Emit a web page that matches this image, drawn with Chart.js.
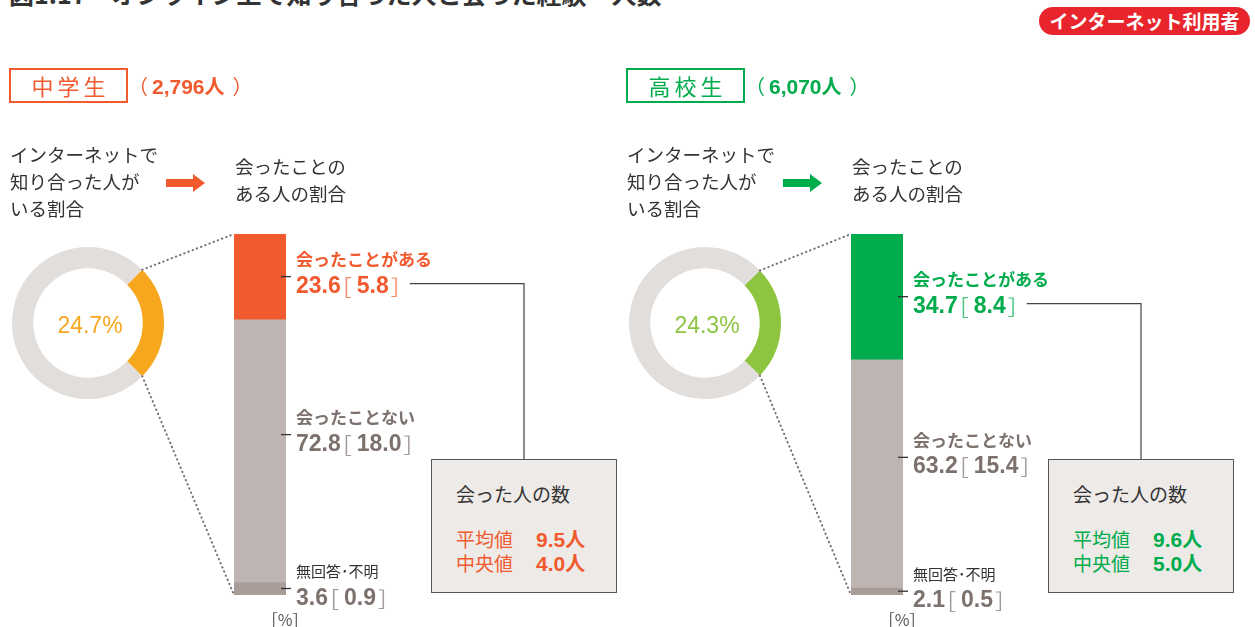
<!DOCTYPE html>
<html lang="ja">
<head>
<meta charset="utf-8">
<script src="https://cdn.jsdelivr.net/npm/chart.js@4.4.1/dist/chart.umd.min.js"></script>
<style>
  body { margin: 0; width: 1255px; height: 627px; overflow: hidden; background: #fff; position: relative;
         font-family: "Noto Sans CJK JP", sans-serif; color: #333; }
  .title { position: absolute; left: 9px; top: -19px; font-size: 25px; line-height: 25px; font-weight: bold; white-space: nowrap; color: #333; }
  .pill { position: absolute; left: 1039px; top: 7px; width: 211px; height: 28px; border-radius: 14px; background: #E8252C;
          color: #fff; font-weight: bold; font-size: 19px; line-height: 28px; text-align: center; }
  .panel { position: absolute; top: 0; width: 620px; height: 627px; }
  .panel canvas { position: absolute; }
  .ring { left: 12px; top: 247px; }
  .bars { left: 0; top: 0; }
  .grade { position: absolute; left: 9px; top: 68px; width: 115px; height: 31px; border: 2px solid; font-size: 22px;
           line-height: 31px; text-align: center; letter-spacing: 4px; text-indent: 4px; }
  .count { position: absolute; left: 128px; top: 73px; font-size: 20px; line-height: 26px; white-space: nowrap; }
  .count b { font-family: "Liberation Sans", "Noto Sans CJK JP", sans-serif; font-size: 21px; margin-left: 4px; }
  .count b.nin { font-family: "Noto Sans CJK JP", sans-serif; font-size: 20px; margin-left: 0; }
  .count .close { margin-left: 8px; }
  .lead { position: absolute; left: 10px; top: 141px; font-size: 18.5px; line-height: 27px; white-space: nowrap; }
  .lead2 { position: absolute; left: 235px; top: 153px; font-size: 18.5px; line-height: 27px; white-space: nowrap; }
  .arrow { position: absolute; left: 166px; top: 173px; }
  .box { position: absolute; left: 431px; top: 459px; width: 184px; height: 132px; border: 1.5px solid #555; background: #EEEAE8; }
  .box div { position: absolute; left: 24px; font-size: 19px; line-height: 24px; white-space: nowrap; }
  .box b { position: absolute; left: 80px; font-family: "Liberation Sans", "Noto Sans CJK JP", sans-serif; font-size: 21px; }
  .box b span { font-family: "Noto Sans CJK JP", sans-serif; font-size: 20px; }
</style>
</head>
<body>
<div class="title">図1.17　オンライン上で知り合った人と会った経験・人数</div>
<div class="pill">インターネット利用者</div>

<script>
const groups = ['中学生', '高校生'];
const respondents = ['2,796', '6,070'];
const knownShare = [24.7, 24.3];
const otherShare = [75.3, 75.7];
const meetCategories = ['会ったことがある', '会ったことない', '無回答･不明'];
const juniorMeet = [23.6, 72.8, 3.6];
const juniorMeetAll = [5.8, 18.0, 0.9];
const seniorMeet = [34.7, 63.2, 2.1];
const seniorMeetAll = [8.4, 15.4, 0.5];
const meanMet = [9.5, 9.6];
const medianMet = [4.0, 5.0];

const meetValues = [juniorMeet, seniorMeet];
const meetAll = [juniorMeetAll, seniorMeetAll];

// styles
const ACCENT = ['#F15A2F', '#00AC4C'];
const RING = ['#F7A71E', '#8DC540'];
const RING_BG = '#E2DEDB';
const PANEL_X = [0, 617];
const LABEL_GRAY = '#7D716E';
const NUM_FONT = '"Liberation Sans", "Noto Sans CJK JP", sans-serif';
const JP_FONT = '"Noto Sans CJK JP", sans-serif';
const LABEL_SHIFT = [0, -16, 0];
const BOX_CX = 524, BOX_TOP = 459;
const RING_POS = { left: 12, top: 247 };

const fmt = v => v.toFixed(1);

function buildPanel(p) {
  const a = ACCENT[p];
  const panel = document.createElement('div');
  panel.className = 'panel';
  panel.style.left = PANEL_X[p] + 'px';
  panel.innerHTML = `
    <canvas class="ring" width="152" height="152"></canvas>
    <canvas class="bars" width="620" height="627"></canvas>
    <div class="grade" style="color:${a};border-color:${a}">${groups[p]}</div>
    <div class="count" style="color:${a}"><span>（</span><b>${respondents[p]}</b><b class="nin">人</b><span class="close">）</span></div>
    <div class="lead">インターネットで<br>知り合った人が<br>いる割合</div>
    <svg class="arrow" width="40" height="20"><path fill="${a}" d="M0 6 H27 V1 L39 10 L27 19 V14 H0 Z"/></svg>
    <div class="lead2">会ったことの<br>ある人の割合</div>
    <div class="box">
      <div style="top:22px;color:#333">会った人の数</div>
      <div style="top:67px;color:${a}">平均値<b>${fmt(meanMet[p])}<span>人</span></b></div>
      <div style="top:91px;color:${a}">中央値<b>${fmt(medianMet[p])}<span>人</span></b></div>
    </div>`;
  document.body.appendChild(panel);

  // donut: share of students who got to know someone online
  const centerText = {
    id: 'centerText',
    afterDraw(chart) {
      const arc = chart.getDatasetMeta(0).data[0];
      const ctx = chart.ctx;
      ctx.save();
      ctx.font = '23px ' + NUM_FONT;
      ctx.fillStyle = RING[p];
      ctx.textAlign = 'center';
      ctx.textBaseline = 'alphabetic';
      ctx.fillText(fmt(knownShare[p]) + '%', arc.x + 2, arc.y + 10);
      ctx.restore();
    }
  };
  const ring = new Chart(panel.querySelector('.ring'), {
    type: 'doughnut',
    data: {
      labels: ['いる', 'いない'],
      datasets: [{
        data: [knownShare[p], otherShare[p]],
        backgroundColor: [RING[p], RING_BG],
        borderWidth: 0,
        hoverOffset: 0
      }]
    },
    options: {
      responsive: false,
      animation: false,
      rotation: 90 - knownShare[p] * 3.6 / 2,
      cutout: '72%',
      plugins: { legend: { display: false }, tooltip: { enabled: false } }
    },
    plugins: [centerText]
  });

  // labels, ticks, connector and dotted guides for the stacked bar
  const barLabels = {
    id: 'barLabels',
    afterDraw(chart) {
      const ctx = chart.ctx;
      ctx.save();
      let barLeft, barTop, barBottom;
      chart.data.datasets.forEach((ds, i) => {
        const el = chart.getDatasetMeta(i).data[0];
        const top = Math.min(el.y, el.base), bot = Math.max(el.y, el.base);
        const right = el.x + el.width / 2;
        barLeft = el.x - el.width / 2;
        if (i === 0) barTop = top;
        barBottom = bot;
        const y = (top + bot) / 2 + LABEL_SHIFT[i];
        const col = i === 0 ? ACCENT[p] : LABEL_GRAY;

        ctx.strokeStyle = '#333';
        ctx.lineWidth = 1.3;
        ctx.beginPath();
        ctx.moveTo(right - 5, y);
        ctx.lineTo(right + 5, y);
        ctx.stroke();

        ctx.textAlign = 'left';
        ctx.textBaseline = 'middle';
        ctx.font = i === 2 ? '15px ' + JP_FONT : 'bold 17px ' + JP_FONT;
        ctx.fillStyle = i === 2 ? '#333' : col;
        ctx.fillText(ds.label, right + 10, y - 17);

        ctx.textBaseline = 'alphabetic';
        const base = y + 16;
        let x = right + 10;
        ctx.fillStyle = col;
        ctx.font = 'bold 23px ' + NUM_FONT;
        ctx.fillText(fmt(ds.data[0]), x, base);
        x += ctx.measureText(fmt(ds.data[0])).width;

        const bracket = (ch, gapBefore, gapAfter) => {
          ctx.font = '21px ' + JP_FONT;
          const m = ctx.measureText(ch);
          ctx.globalAlpha = 0.7;
          const dx = x + gapBefore + m.actualBoundingBoxLeft;
          ctx.fillText(ch, dx, base + 2);
          ctx.globalAlpha = 1;
          x = dx + m.actualBoundingBoxRight + gapAfter;
        };
        bracket('［', 4, 5);
        ctx.font = 'bold 23px ' + NUM_FONT;
        const allTxt = fmt(meetAll[p][i]);
        ctx.fillText(allTxt, x, base);
        x += ctx.measureText(allTxt).width;
        bracket('］', 2, 0);

        if (i === 0) {
          ctx.strokeStyle = '#444';
          ctx.lineWidth = 1.2;
          ctx.beginPath();
          ctx.moveTo(x + 12, y + 7);
          ctx.lineTo(BOX_CX, y + 7);
          ctx.lineTo(BOX_CX, BOX_TOP);
          ctx.stroke();
        }
        if (i === chart.data.datasets.length - 1) {
          ctx.font = '16px ' + JP_FONT;
          ctx.fillStyle = '#555';
          ctx.textAlign = 'center';
          ctx.fillText('［%］', right - 1, bot + 31);
        }
      });

      // dotted guides from the highlighted ring segment to the bar corners
      const arc = ring.getDatasetMeta(0).data[0];
      const cx = RING_POS.left + arc.x, cy = RING_POS.top + arc.y, r = arc.outerRadius;
      ctx.strokeStyle = '#7A6E6B';
      ctx.lineWidth = 2;
      ctx.lineCap = 'round';
      ctx.setLineDash([0.5, 4]);
      ctx.beginPath();
      ctx.moveTo(cx + r * Math.cos(arc.startAngle), cy + r * Math.sin(arc.startAngle));
      ctx.lineTo(barLeft, barTop);
      ctx.moveTo(cx + r * Math.cos(arc.endAngle), cy + r * Math.sin(arc.endAngle));
      ctx.lineTo(barLeft, barBottom);
      ctx.stroke();
      ctx.restore();
    }
  };

  const segColors = [ACCENT[p], '#BEB5B2', '#A99D9A'];
  new Chart(panel.querySelector('.bars'), {
    type: 'bar',
    data: {
      labels: [groups[p]],
      datasets: meetCategories.map((name, i) => ({
        label: name,
        data: [meetValues[p][i]],
        backgroundColor: segColors[i],
        borderWidth: 0,
        barPercentage: 1,
        categoryPercentage: 1
      }))
    },
    options: {
      responsive: false,
      animation: false,
      layout: { padding: { left: 234, right: 334, top: 234, bottom: 32 } },
      scales: {
        x: { display: false, stacked: true },
        y: { display: false, stacked: true, min: 0, max: 100, reverse: true }
      },
      plugins: { legend: { display: false }, tooltip: { enabled: false } }
    },
    plugins: [barLabels]
  });
}

groups.forEach((g, p) => buildPanel(p));
</script>
</body>
</html>
